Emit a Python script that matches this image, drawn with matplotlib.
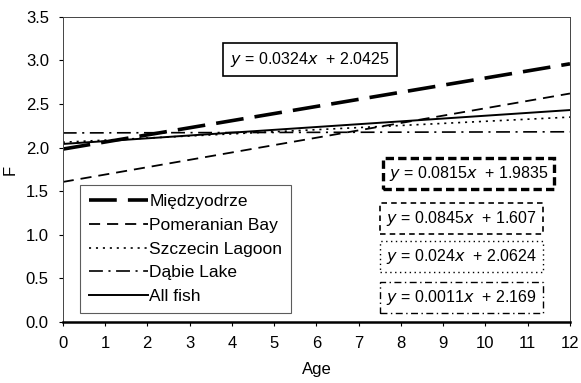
import numpy as np
import matplotlib
matplotlib.use("Agg")
import matplotlib.pyplot as plt

plt.rcParams['font.family'] = ['Liberation Sans', 'DejaVu Sans']
plt.rcParams['lines.scale_dashes'] = False

# regression fits F = a*Age + b for each site
sites = ["Międzyodrze", "Pomeranian Bay", "Szczecin Lagoon", "Dąbie Lake", "All fish"]
slopes = [0.0815, 0.0845, 0.024, 0.0011, 0.0324]
intercepts = [1.9835, 1.607, 2.0624, 2.169, 2.0425]
age_range = [0, 12]

styles = [
    dict(lw=2.6, dashes=(20, 8)),
    dict(lw=1.3, dashes=(8, 5)),
    dict(lw=1.2, dashes=(1.5, 3.5)),
    dict(lw=1.2, dashes=(10, 4, 1.5, 4)),
    dict(lw=1.4, linestyle='-'),
]

fig = plt.figure(figsize=(5.81, 3.83), dpi=100)
ax = fig.add_axes([0.108, 0.159, 0.873, 0.797])

x = np.array(age_range, dtype=float)
for name, a, b, st in zip(sites, slopes, intercepts, styles):
    ax.plot(x, a * x + b, color='black', label=name, **st)

ax.set_xlim(0, 12)
ax.set_ylim(0, 3.5)
ax.set_xticks(range(0, 13))
ax.set_yticks(np.arange(0, 3.51, 0.5))
ax.set_yticklabels([f"{v:.1f}" for v in np.arange(0, 3.51, 0.5)])
ax.tick_params(axis='x', direction='out', length=3, labelsize=12, pad=7)
ax.tick_params(axis='y', direction='out', length=3, labelsize=12, pad=7)
ax.set_xlabel("Age", fontsize=12, labelpad=8)
ax.set_ylabel("F", fontsize=12)
ax.yaxis.set_label_coords(-0.088, 0.5)

for side in ['top', 'right', 'left']:
    ax.spines[side].set_linewidth(0.7)
    ax.spines[side].set_color('#444444')
ax.spines['bottom'].set_linewidth(1.8)

leg = ax.legend(loc='lower left', bbox_to_anchor=(0.034, 0.03), fontsize=12.5,
                handlelength=3.4, handletextpad=0.1, labelspacing=0.5,
                borderpad=0.5, borderaxespad=0, fancybox=False, frameon=True)
leg.get_frame().set_edgecolor('#333333')
leg.get_frame().set_linewidth(0.8)

# equation labels, framed in the matching line style
def eq_text(a, b):
    return f"$y$ = {a}$x$  + {b}"

eq_pos = [(0.643, 0.487), (0.638, 0.34), (0.638, 0.215), (0.638, 0.08)]
eq_box = [
    dict(lw=2.4, ls=(0, (6, 3))),
    dict(lw=1.2, ls=(0, (4, 3))),
    dict(lw=1.0, ls=(0, (1, 2.5))),
    dict(lw=1.0, ls=(0, (5, 2.5, 1, 2.5))),
]
for i in range(4):
    ax.text(eq_pos[i][0], eq_pos[i][1], eq_text(slopes[i], intercepts[i]),
            transform=ax.transAxes, fontsize=11.5, va='center', ha='left',
            bbox=dict(boxstyle='square,pad=0.38', fc='white', ec='black',
                      lw=eq_box[i]['lw'], ls=eq_box[i]['ls']))

ax.text(0.33, 0.86, eq_text(slopes[4], intercepts[4]), transform=ax.transAxes,
        fontsize=11.5, va='center', ha='left',
        bbox=dict(boxstyle='square,pad=0.45', fc='white', ec='black', lw=1.2))

fig.savefig("out.png", dpi=100)
